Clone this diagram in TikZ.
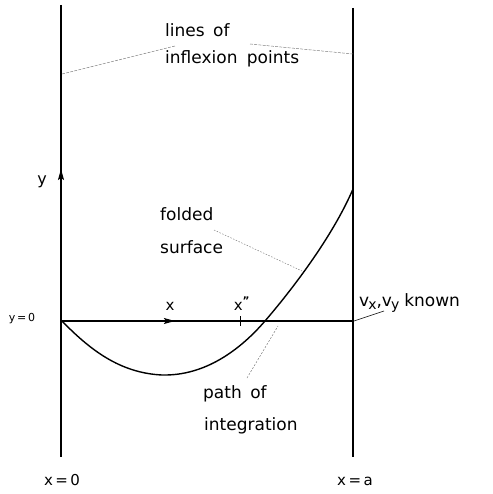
\documentclass[tikz,border=0pt]{standalone}
\usepackage{fontspec}
\setmainfont{DejaVu Sans}
\usetikzlibrary{arrows.meta,decorations.markings}
\begin{document}
\begin{tikzpicture}[x=1pt,y=-1pt,
  lbl/.style={anchor=base west,inner sep=0pt,font=\fontsize{17}{18}\selectfont},
  lblc/.style={anchor=base,inner sep=0pt,font=\fontsize{17}{18}\selectfont},
  border/.style={line width=1.1pt},
  tipstyle/.tip={Stealth[length=11pt,width=6pt,inset=2pt]},
  leader/.style={gray,line width=0.5pt,dash pattern=on 3pt off 1.2pt},
  curvestyle/.style={line width=1.4pt,line join=round}]
\useasboundingbox (0,0) rectangle (492,494);
% vertical lines
\coordinate (L0) at (61,5);
\coordinate (L1) at (61,457);
\coordinate (R0) at (353,8);
\coordinate (R1) at (353,457);
\coordinate (O) at (61,321);
\coordinate (A) at (353,321);
\draw[border] (L0) -- (L1);
\draw[border] (R0) -- (R1);
% x axis with middle arrow
\draw[border,postaction={decorate},decoration={markings,mark=at position 0.39 with {\arrow{tipstyle}}}] (O) -- (A);
% y arrow
\coordinate (Ya) at (61,195);
\coordinate (Yb) at (61,169);
\draw[border,-{tipstyle}] (Ya) -- (Yb);
% tick at x*
\coordinate (T0) at (240,316);
\coordinate (T1) at (240,326);
\draw[line width=0.9pt] (T0) -- (T1);
% curve
\coordinate (C0) at (61,320);
\coordinate (C1) at (162,375);
\coordinate (C2) at (265,321);
\coordinate (C3) at (353,189);
\draw[curvestyle] (C0) .. controls (90,350) and (120,373) .. (C1)
  .. controls (205,376) and (240,350) .. (C2)
  .. controls (290,292) and (332,238) .. (C3);
% labels
\node[lbl] (lo) at (165,37) {lines\hspace{3pt} of};
\node[lbl] (ip) at (165,64) {inflexion\hspace{4pt} points};
\node[lblc,font=\fontsize{16}{18}\selectfont] (yl) at (42,184) {y};
\node[lbl] (fo) at (160,220) {folded};
\node[lbl] (su) at (160,253) {surface};
\node[lblc,font=\fontsize{15}{18}\selectfont] (xl) at (170,310) {x};
\node[lblc,font=\fontsize{15}{18}\selectfont] (xs) at (242,310) {x\textsuperscript{\bfseries"}};
\node[lblc,font=\fontsize{11}{12}\selectfont] (y0) at (22,321) {y\,=\,0};
\node[lbl] (vk) at (359,306) {v\kern-1pt\raisebox{-3pt}{\fontsize{14}{14}\selectfont x},v\kern-1pt\raisebox{-3pt}{\fontsize{14}{14}\selectfont y}\hspace{5pt}known};
\node[lbl] (po) at (203,398) {path\hspace{3pt} of};
\node[lbl] (in) at (204,430) {integration};
\node[lblc,font=\fontsize{15}{18}\selectfont] (x0) at (62,485) {x\,=\,0};
\node[lblc,font=\fontsize{15}{18}\selectfont] (xa) at (355,485) {x\,=\,a};
% leaders
\coordinate (p1) at (62,74);
\coordinate (p2) at (175,46);
\coordinate (p3) at (250,44);
\coordinate (p4) at (353,54);
\draw[leader] (p1) -- (p2);
\draw[leader] (p3) -- (p4);
\coordinate (f1) at (214,230);
\coordinate (f2) at (302,271);
\draw[leader,dash pattern=on 1.5pt off 1.5pt] (f1) -- (f2);
\coordinate (v1) at (354,321);
\coordinate (v2) at (384,311);
\draw[line width=0.6pt] (v1) -- (v2);
\coordinate (i1) at (247,378);
\coordinate (i2) at (278,326);
\draw[leader,dash pattern=on 2pt off 1.5pt] (i1) -- (i2);
\end{tikzpicture}
\end{document}
